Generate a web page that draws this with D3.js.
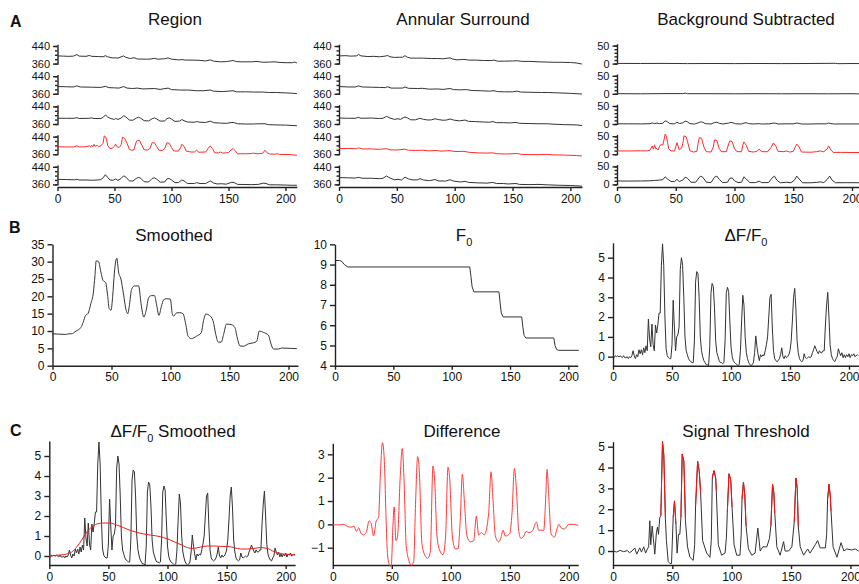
<!DOCTYPE html>
<html>
<head>
<meta charset="utf-8">
<script src="https://cdn.jsdelivr.net/npm/d3@7"></script>
<style>
body { margin: 0; background: #fff; }
svg { font-family: "Liberation Sans", Arial, sans-serif; }
.axis path, .axis line { stroke: #222; stroke-width: 1.4; }
.axis text { font-size: 12px; fill: #111; font-family: "Liberation Sans", Arial, sans-serif; }
.small text { font-size: 11px; }
.trace { fill: none; stroke-width: 1; stroke-linejoin: round; }
.title { font-size: 17px; fill: #111; }
.letter { font-size: 16px; font-weight: bold; fill: #111; }
</style>
</head>
<body>
<svg id="fig" width="859" height="584"></svg>
<script>

// ---- row A: raw traces, 5 regions each (time in s, value) ----
const region = [
  [[0,395],[5,394],[10,393],[14,394],[17,401],[19,394],[25,393],[28,397],[30,393],[36,392],[40,391],[42,396],[44,391],[48,386],[51,386],[53,385],[58,395],[60,388],[64,383],[67,387],[70,381],[78,380],[82,381],[85,384],[88,380],[94,382],[97,386],[100,380],[106,377],[110,378],[112,376],[118,376],[124,375],[130,372],[134,377],[137,371],[143,368],[148,369],[154,374],[157,369],[162,368],[170,368],[175,370],[180,366],[186,367],[190,368],[196,365],[202,364],[206,364],[208,367],[210,363]],
  [[0,393],[8,392],[14,391],[17,396],[20,391],[30,390],[38,389],[42,394],[45,388],[50,387],[54,386],[58,393],[61,386],[66,384],[70,386],[75,382],[85,384],[90,380],[97,386],[100,379],[108,377],[115,377],[122,374],[128,374],[134,377],[137,372],[145,370],[154,374],[157,369],[165,369],[172,368],[180,368],[185,366],[192,366],[200,364],[205,363],[210,361]],
  [[0,386],[8,386],[15,386],[17,389],[19,385],[28,386],[30,388],[32,385],[38,385],[40,390],[42,401],[44,392],[47,384],[50,381],[51,385],[53,381],[56,387],[58,398],[60,392],[63,378],[66,377],[69,386],[71,391],[73,386],[76,375],[80,374],[83,384],[85,388],[87,383],[90,373],[94,374],[96,384],[98,388],[100,382],[103,372],[107,373],[109,380],[111,375],[114,369],[120,368],[122,371],[125,368],[130,367],[134,373],[137,366],[143,364],[148,363],[153,367],[155,366],[158,361],[165,360],[172,360],[176,361],[182,361],[185,357],[190,356],[200,355],[210,352]],
  [[0,394],[8,393],[14,393],[17,398],[19,393],[25,394],[28,398],[29,393],[30,400],[31,394],[32,405],[33,396],[35,400],[36,395],[38,398],[40,410],[41,443],[42,440],[43,428],[44,400],[46,386],[48,387],[50,396],[51,406],[52,395],[54,390],[55,396],[56,405],[57,437],[59,432],[61,410],[63,382],[65,378],[67,380],[69,415],[70,423],[72,422],[74,400],[76,380],[79,379],[81,385],[83,412],[85,412],[87,395],[89,378],[92,377],[94,385],[96,412],[98,410],[100,390],[102,375],[106,374],[108,390],[109,405],[111,396],[113,374],[117,370],[120,370],[122,378],[124,369],[130,370],[132,385],[134,398],[136,385],[138,366],[141,366],[143,370],[145,365],[150,367],[152,378],[154,386],[156,375],[158,362],[165,362],[170,363],[172,365],[175,362],[180,364],[182,378],[184,366],[186,361],[191,360],[193,362],[195,359],[205,358],[210,355]],
  [[0,383],[8,382],[15,381],[17,383],[19,380],[25,380],[30,379],[35,380],[38,382],[40,390],[42,404],[44,392],[46,380],[49,379],[51,385],[53,378],[56,388],[58,399],[60,393],[63,376],[66,375],[69,387],[71,392],[73,388],[76,372],[80,371],[83,387],[85,390],[87,384],[90,370],[94,371],[96,385],[98,387],[100,380],[103,368],[106,368],[109,380],[111,376],[114,364],[120,364],[122,368],[125,364],[130,364],[134,376],[137,366],[140,362],[144,363],[148,361],[153,370],[155,368],[158,360],[170,359],[176,360],[181,366],[183,364],[186,358],[192,358],[200,357],[205,356],[210,356]]
];

const annulus = [
  [[0,395],[6,396],[10,394],[15,395],[17,401],[19,395],[25,392],[30,393],[35,391],[40,394],[42,397],[44,391],[48,388],[52,389],[55,389],[57,396],[59,389],[62,385],[68,385],[72,385],[80,383],[85,383],[90,382],[96,386],[98,381],[102,377],[108,379],[112,376],[118,376],[125,374],[132,374],[134,376],[137,371],[143,371],[150,372],[154,373],[158,370],[165,370],[172,368],[180,367],[186,366],[192,366],[200,365],[205,363],[210,358]],
  [[0,393],[8,391],[14,391],[17,396],[20,391],[28,390],[35,389],[40,388],[42,392],[45,386],[50,386],[55,386],[57,391],[60,385],[68,384],[72,385],[78,381],[85,382],[90,380],[96,384],[99,379],[105,378],[110,379],[115,375],[122,374],[130,372],[134,374],[137,370],[143,369],[150,369],[154,372],[157,368],[165,367],[175,366],[180,366],[190,364],[200,362],[210,359]],
  [[0,387],[8,386],[14,386],[17,390],[19,386],[28,387],[35,385],[38,386],[41,395],[44,387],[48,381],[51,384],[53,381],[57,392],[59,388],[62,379],[66,379],[70,386],[73,381],[77,378],[80,379],[83,384],[86,380],[90,377],[93,378],[96,383],[99,378],[104,374],[109,378],[112,372],[118,371],[125,369],[130,368],[133,371],[136,366],[142,366],[148,365],[153,367],[156,363],[165,362],[172,361],[180,361],[186,359],[195,357],[205,356],[210,353]],
  [[0,386],[8,386],[15,385],[17,389],[20,384],[28,384],[35,382],[41,385],[44,380],[50,379],[57,383],[60,378],[66,377],[72,378],[78,375],[84,377],[88,374],[96,376],[100,372],[108,373],[112,369],[120,366],[127,365],[133,366],[137,362],[145,361],[154,363],[158,359],[165,358],[173,358],[180,359],[185,357],[195,356],[205,354],[210,352]],
  [[0,391],[8,390],[14,389],[17,392],[20,388],[28,388],[35,386],[38,388],[41,398],[44,389],[48,381],[51,383],[54,380],[57,393],[60,385],[64,380],[68,381],[70,386],[73,380],[78,377],[83,382],[86,376],[92,375],[96,381],[99,375],[105,371],[109,374],[112,369],[120,367],[128,366],[133,369],[136,364],[142,364],[146,362],[153,364],[156,360],[165,359],[172,360],[180,358],[190,356],[200,355],[210,352]]
];

const bgSub = [
  [[0,0.5],[20,0.3],[40,0.5],[60,0],[80,0.3],[100,0],[120,0.3],[140,0],[160,0.2],[186,0.8],[188,-0.2],[200,0.2],[210,0]],
  [[0,0.3],[20,0],[40,0.5],[56,0.5],[58,2],[60,0.3],[80,0.3],[100,0],[120,0.3],[140,0],[160,0.2],[180,0],[200,0.2],[210,-0.5]],
  [[0,0.5],[10,0.5],[20,0.3],[28,0.8],[30,3],[32,1],[34,2.5],[36,1],[39,2],[41,9],[43,6],[45,1],[49,0.5],[51,5],[53,1.5],[56,3],[58,8],[60,6],[62,1],[66,0],[69,3],[71,6],[73,5],[75,1],[80,0],[83,4],[85,5],[87,2],[90,0],[95,2.5],[97,4.5],[99,3],[101,0.5],[106,0],[108,2.5],[110,3.6],[112,1],[116,0],[121,1],[123,0],[130,0.5],[133,2.7],[135,2],[137,0],[143,0.5],[150,0.5],[153,2.7],[155,1.5],[157,0],[165,0],[172,0.5],[178,0.5],[180,2.7],[182,1],[185,0],[195,0.2],[210,0.2]],
  [[0,9],[10,9],[20,9.5],[25,9],[28,11],[30,23],[31,14],[32,26],[33,15],[34,16],[35,12],[36,20],[37,26],[39,26],[40,40],[41,56],[42,50],[43,33],[44,15],[46,9],[49,9],[50,20],[51,32],[52,22],[53,12],[55,17],[56,30],[57,51],[59,48],[60,35],[62,10],[65,6],[68,8],[69,30],[70,46],[72,44],[74,20],[76,7],[80,6],[82,20],[83,40],[85,38],[87,15],[89,7],[93,7],[95,28],[96,37],[98,35],[100,15],[102,7],[106,7],[107,25],[108,34],[110,25],[112,8],[116,6],[119,8],[121,14],[123,7],[128,7],[131,18],[133,31],[135,24],[137,8],[142,7],[144,9],[147,6],[150,8],[152,22],[153,28],[155,20],[157,6],[165,5.5],[170,7],[173,9],[176,7],[179,15],[180,23],[182,12],[184,5],[190,5],[200,4.8],[210,4.6]],
  [[0,9.5],[10,9.3],[20,9.5],[28,10],[32,11],[36,12],[39,13],[41,21],[43,15],[46,8],[49,8],[51,14],[53,8],[56,12],[58,20],[60,17],[63,6],[67,6],[69,15],[71,23],[73,20],[76,6],[80,5],[83,20],[85,23],[87,14],[90,5],[94,6],[96,17],[98,18],[100,10],[103,5],[106,6],[108,21],[110,15],[113,5],[118,5],[121,9],[123,5],[129,5],[132,18],[134,23],[136,12],[139,4.5],[144,6],[148,4.5],[151,12],[153,23],[155,15],[158,4.5],[165,4.5],[170,5.5],[173,7],[176,5],[179,14],[181,23],[183,12],[186,4.5],[195,4.8],[210,4.6]]
];

// ---- row B ----
const smoothed = [[0,9.2],[5,9.1],[11,9.0],[14,9.2],[16,9.2],[20,10],[24,11],[26,12.5],[28,14.5],[30,15],[32.6,18],[34.6,21],[36,26],[37,30.2],[39,30],[41,27],[43,24.5],[45,24],[46.8,20],[48,16.5],[49.6,16],[51,20],[52.5,27],[54.5,31],[56,27],[58,25],[60,21],[62.4,16],[63.8,15],[65,17],[67,22],[69.5,23],[73,23],[75,18],[77.4,14],[79.4,16],[81.4,19.5],[83.7,20.2],[86.5,20.2],[88,18],[90.2,14.5],[92.2,17],[94.2,19],[96.5,19.3],[99.9,19.2],[101.5,15],[102.7,14.3],[105,15.2],[107.8,15.3],[110.6,15],[112.9,12],[114.9,8.5],[117.7,7.8],[122,8.5],[126,9.5],[128,13],[130,14.9],[133,14.5],[136,13],[138.4,9],[140.4,6.8],[143,6.8],[145,9],[147.5,12],[151.8,11.8],[154.6,11],[156.6,8],[158.9,5.7],[161.7,5.6],[166,6.3],[170.2,6.6],[173,7],[175.3,10],[178.7,9.6],[183,8.8],[185,6.5],[187.2,4.8],[191.5,4.8],[194.3,5.1],[201.4,5.0],[207,4.9]];

const f0 = [[0,9.2],[4,9.2],[6,9.15],[8,9.0],[11,8.88],[115.5,8.88],[116.5,8.4],[117.5,7.9],[119,7.65],[140.5,7.65],[141.5,7.1],[142.5,6.6],[144,6.41],[160,6.41],[161,5.9],[162,5.5],[163.5,5.37],[187.5,5.37],[188.5,5.0],[190,4.8],[191.5,4.76],[209,4.76]];

// dF/F0, one value per second from t = 0
const dff = [
  0.0,-0.05,0.05,0.0,0.05,-0.02,0.05,0.0,-0.05,0.05,
  -0.05,-0.05,0.0,-0.1,0.0,-0.05,0.05,0.3,0.05,-0.1,
  0.1,0.0,0.35,0.15,0.35,0.1,0.45,0.2,0.55,0.3,
  1.9,0.9,0.5,1.65,0.6,0.3,1.6,1.2,1.6,2.2,
  2.2,4.6,5.7,4.6,2.0,0.4,0.05,-0.05,-0.1,-0.1,
  0.6,2.85,1.5,0.3,1.0,1.1,1.5,4.4,5.0,4.6,
  3.0,1.0,0.3,0.1,-0.1,-0.2,-0.25,-0.3,-0.3,0.8,
  3.8,4.3,4.2,3.0,1.0,0.3,0.0,-0.2,-0.3,-0.4,
  -0.4,-0.45,0.5,3.2,3.7,3.55,2.5,0.8,0.2,0.0,
  -0.2,-0.3,-0.3,-0.35,-0.3,0.8,3.2,3.5,3.3,1.8,
  0.5,0.0,-0.2,-0.3,-0.35,-0.4,-0.45,-0.4,0.3,1.8,
  3.1,2.6,1.0,0.2,-0.1,-0.3,-0.4,-0.45,-0.4,-0.3,
  0.2,1.05,0.5,0.1,-0.2,0.1,0.0,0.1,0.05,0.3,
  0.6,1.0,2.0,3.0,3.15,1.5,0.3,-0.1,-0.2,-0.25,
  -0.2,-0.1,0.1,0.45,0.0,-0.1,0.05,-0.05,0.0,0.1,
  0.3,0.8,1.8,3.0,3.45,2.4,0.8,0.2,-0.1,-0.2,
  -0.25,-0.2,0.15,-0.05,-0.1,-0.05,0.0,-0.05,0.0,0.2,
  0.35,0.55,0.4,0.25,0.15,0.3,0.2,0.2,0.3,0.3,
  1.6,2.6,3.25,2.0,0.6,0.1,-0.1,-0.2,-0.25,-0.1,
  0.0,0.4,0.2,0.05,0.2,-0.05,0.1,-0.05,0.1,0.0,
  0.15,-0.05,0.1,0.05,0.15,0.0,0.05,0.1,0.05
];

// ---- row C ----
const dffSmooth = [[0,0.0],[9,0.05],[14.7,0.1],[19,0.2],[23.2,0.45],[27.4,0.8],[31.7,1.2],[36,1.45],[40.2,1.6],[45.8,1.65],[51.5,1.65],[57.1,1.55],[62.8,1.42],[68.5,1.28],[74.1,1.18],[79.8,1.1],[85.4,1.05],[91,1.0],[96.7,0.92],[102.4,0.8],[108.1,0.65],[113.7,0.5],[118,0.4],[122.2,0.38],[127.9,0.45],[133.5,0.5],[139.2,0.5],[144.8,0.48],[150.5,0.48],[156.2,0.42],[161.8,0.35],[167.5,0.35],[173.1,0.38],[178.8,0.42],[184.4,0.38],[190.1,0.22],[195.8,0.12],[201.4,0.08],[208,0.05]];

const difference = [[0,-0.02],[6,-0.02],[9,0.0],[13,-0.1],[16,-0.12],[18,-0.08],[20,-0.3],[22,-0.15],[24,-0.4],[26,-0.45],[28.3,-0.35],[30.8,0.15],[32.5,0.05],[34.5,-0.5],[36.8,0.15],[38.8,0.3],[40.2,2.0],[42.1,3.5],[43.6,2.8],[45.3,0.0],[46.4,-1.3],[48.1,-1.75],[49.5,-1.8],[51,0.0],[52,0.75],[53.5,-0.7],[54.9,-0.5],[57.1,2.0],[58.8,3.25],[60.3,2.0],[62.2,-0.9],[64.2,-1.5],[66.5,-1.75],[68.5,-1.6],[70.2,1.0],[71.9,2.9],[73.3,2.3],[75.5,-0.8],[77.8,-1.3],[80.3,-1.45],[82.6,-1.2],[84.9,2.5],[86.3,1.9],[88.3,-0.5],[90.5,-1.1],[93.4,-1.3],[95.6,-0.5],[97.6,2.45],[99,2.0],[101.3,-0.5],[103.8,-1.05],[106.1,-1.05],[108.1,0.3],[109.8,2.15],[111.5,1.0],[113.7,-0.5],[116.5,-0.75],[119.4,-0.7],[121.6,0.35],[123.6,-0.45],[125.9,-0.35],[128.4,-0.45],[132.1,0.5],[134.1,2.25],[135.8,1.0],[137.8,-0.5],[140.6,-0.75],[142.6,-0.55],[144.3,-0.25],[146.2,-0.5],[149.9,-0.4],[151.9,0.5],[153.9,2.4],[155.6,1.5],[157.6,-0.3],[159.5,-0.6],[161.8,-0.5],[163.8,-0.3],[166,-0.35],[168.9,-0.3],[172.6,0.1],[174.5,-0.25],[178.8,-0.25],[180.3,1.0],[181.6,2.35],[183,1.2],[185,-0.4],[187.8,-0.55],[190,-0.2],[191.5,0.0],[193.5,-0.15],[196.3,-0.2],[200,0.0],[204.2,0.0],[208,-0.05]];

const threshSignal = [[0,0],[3,-0.05],[6,0.03],[9,-0.03],[12,0.02],[14,-0.08],[16,0],[18.3,0.15],[20,-0.15],[22.5,0.15],[24,-0.05],[25.9,0.2],[27.5,-0.1],[29,0.1],[30,0.2],[31,1.45],[31.8,0.3],[33,1.2],[34,0.6],[35.2,-0.15],[36.6,0.9],[37.5,1.15],[38.3,0.8],[39.4,1.6],[40.3,1.7],[41.7,5.25],[42.8,4.6],[44.2,1.5],[45,0.5],[46.5,-0.5],[48,-0.6],[49.3,-0.6],[50.7,1.6],[51.8,2.4],[53,1.3],[54,-0.1],[55.2,0.8],[56.3,0.8],[57.2,1.6],[58.3,4.65],[59.7,4.3],[61.1,1.4],[62.8,0.2],[64.8,-0.3],[67.6,-0.45],[68.8,0.3],[69.6,2.2],[71.3,4.3],[72.7,3.8],[73.8,2.8],[75.5,0.5],[78.9,-0.1],[81.7,-0.3],[82.8,0.5],[83.7,3.55],[85.1,3.85],[86.5,3.5],[87,2.9],[88.7,0.3],[91.5,-0.2],[94.4,-0.1],[95.5,0.6],[96.3,1.85],[97.7,3.7],[99.2,3.4],[100.3,2.1],[102,0.3],[104.2,-0.2],[107,-0.2],[108,0.8],[108.7,2.5],[109.9,3.3],[111,2.7],[112.1,1.2],[114.1,0.1],[116.9,-0.2],[119.7,-0.1],[122,1.1],[124,0],[126.2,0.2],[129.6,0.2],[131.8,0.6],[133,1.2],[134.4,3.2],[135.5,2.8],[136.3,1.8],[138,0.2],[140.8,-0.2],[143.7,0.45],[145,0],[147.9,0],[150.7,0.2],[152.7,1.4],[154.1,3.5],[155.2,3.0],[156.1,1.2],[157.7,0.2],[160.6,-0.2],[164,0.1],[166,-0.1],[170.4,0.3],[172.4,0.5],[174.5,0.15],[178.9,0.15],[180,0.8],[180.8,2.5],[182,3.2],[183.1,2.6],[183.7,1.9],[185.4,0.2],[188.7,-0.3],[192.1,0.4],[194.5,0],[197,0.1],[201,0.05],[204,0.1],[207,0]];

// time windows flagged as signal (drawn red)
const signalWindows = [[40.3,44.2],[50.7,53],[57.2,61.1],[69.6,73.8],[83.7,87],[96.3,100.3],[108.7,112.1],[133,136.3],[152.7,156.1],[180.8,183.7]];

const xTickVals = [0, 50, 100, 150, 200];
const gray = "#333";
const red = "#ff2a2a";
const intFmt = d3.format("d");

const svg = d3.select("#fig");

function title(x, y, parts) {
    var t = svg.append("text").attr("class", "title")
        .attr("x", x).attr("y", y).attr("text-anchor", "middle");
    var wasSub = false;
    parts.forEach(p => {
        var sub = p[1] === true;
        t.append("tspan")
            .attr("font-size", sub ? 11 : 17)
            .attr("dy", sub ? 5 : (wasSub ? -5 : 0))
            .text(p[0]);
        wasSub = sub;
    });
}

// stacked mini plots used in row A
function stack(x0, k, traces, lo, hi, ppu, minorStep, domLo, domHi) {
    var x = d3.scaleLinear().domain([0, 210]).range([x0, x0 + 210 * k]);
    traces.forEach((tr, i) => {
        var b = 63.6 + i * 30.2;
        var y = d3.scaleLinear().domain([domLo, domHi])
            .range([b + (lo - domLo) * ppu, b - (domHi - lo) * ppu]);

        svg.append("g").attr("class", "axis")
            .attr("transform", "translate(" + x0 + ",0)")
            .call(d3.axisLeft(y).tickValues(d3.range(lo, hi + 1, minorStep))
                .tickSize(2.5).tickFormat("").tickSizeOuter(0));

        var g2 = svg.append("g").attr("class", "axis small")
            .attr("transform", "translate(" + x0 + ",0)")
            .call(d3.axisLeft(y).tickValues([lo, hi]).tickFormat(intFmt)
                .tickSize(4.5).tickPadding(3).tickSizeOuter(0));
        g2.select(".domain").remove();

        svg.append("path").datum(tr)
            .attr("class", "trace")
            .attr("stroke", i == 3 ? red : gray)
            .attr("d", d3.line().x(d => x(d[0])).y(d => y(d[1])));
    });
    svg.append("g").attr("class", "axis")
        .attr("transform", "translate(0,187)")
        .call(d3.axisBottom(x).tickValues(xTickVals).tickFormat(intFmt).tickSize(4).tickSizeOuter(0));
}

// single plot used in rows B and C
function panel(o) {
    var x = d3.scaleLinear().domain([0, 208]).range([o.x0, o.x0 + 208 * o.k]);
    var y = d3.scaleLinear().domain([o.yMin, o.yMax])
        .range([o.yBot, o.yBot - (o.yMax - o.yMin) * o.ppu]);

    svg.append("g").attr("class", "axis")
        .attr("transform", "translate(0," + o.yBot + ")")
        .call(d3.axisBottom(x).tickValues(xTickVals).tickFormat(intFmt).tickSize(4).tickSizeOuter(0));
    svg.append("g").attr("class", "axis")
        .attr("transform", "translate(" + o.x0 + ",0)")
        .call(d3.axisLeft(y).tickValues(o.ticks).tickFormat(intFmt).tickSize(5).tickPadding(3).tickSizeOuter(0));
    return {x: x, y: y};
}

function draw(p, data, color, width, curve) {
    var line = d3.line().x(d => p.x(d[0])).y(d => p.y(d[1]));
    if (curve) line.curve(curve);
    svg.append("path").datum(data)
        .attr("class", "trace")
        .attr("stroke", color)
        .attr("stroke-width", width)
        .attr("d", line);
}

// letters
svg.append("text").attr("class", "letter").attr("x", 10).attr("y", 27).text("A");
svg.append("text").attr("class", "letter").attr("x", 9).attr("y", 233).text("B");
svg.append("text").attr("class", "letter").attr("x", 10).attr("y", 436).text("C");

// row A
title(175, 25, [["Region"]]);
title(463, 25, [["Annular Surround"]]);
title(746, 25, [["Background Subtracted"]]);
stack(57.5, 1.14, region, 360, 440, 0.22, 20, 357, 448);
stack(339, 1.157, annulus, 360, 440, 0.22, 20, 357, 448);
stack(617, 1.175, bgSub, 0, 50, 0.36, 10, -1.5, 55);

// row B
title(174, 241, [["Smoothed"]]);
title(464, 241, [["F"], ["0", true]]);
title(746, 241, [["\u0394F/F"], ["0", true]]);

var pB1 = panel({x0: 52.5, k: 1.18, yMin: 0, yMax: 35, yBot: 365.7, ppu: 3.469, ticks: d3.range(0, 36, 5)});
draw(pB1, smoothed, gray, 1, d3.curveMonotoneX);

var pB2 = panel({x0: 335, k: 1.167, yMin: 4, yMax: 10, yBot: 365.7, ppu: 20.23, ticks: d3.range(4, 11, 1)});
draw(pB2, f0, gray, 1);

var pB3 = panel({x0: 613, k: 1.18, yMin: -0.455, yMax: 5.75, yBot: 365.7, ppu: 19.8, ticks: d3.range(0, 6, 1)});
draw(pB3, dff.map((v, i) => [i, v]), gray, 1);

// row C
title(173, 437, [["\u0394F/F"], ["0", true], [" Smoothed"]]);
title(462, 437, [["Difference"]]);
title(746, 437, [["Signal Threshold"]]);

var pC1 = panel({x0: 49.3, k: 1.182, yMin: -0.45, yMax: 5.75, yBot: 565, ppu: 20, ticks: d3.range(0, 6, 1)});
draw(pC1, dff.map((v, i) => [i, v]), gray, 1);
draw(pC1, dffSmooth, "#ee1c1c", 2.2, d3.curveMonotoneX);

var pC2 = panel({x0: 332.8, k: 1.18, yMin: -1.74, yMax: 3.47, yBot: 565, ppu: 23.35, ticks: d3.range(-1, 4, 1)});
draw(pC2, difference, "#ff3b3b", 1.1, d3.curveMonotoneX);

var pC3 = panel({x0: 613, k: 1.187, yMin: -0.67, yMax: 5.24, yBot: 565, ppu: 20.87, ticks: d3.range(0, 6, 1)});
draw(pC3, threshSignal, gray, 1);
signalWindows.forEach(w => {
    draw(pC3, threshSignal.filter(d => d[0] >= w[0] && d[0] <= w[1]), "#ff1010", 2.4);
});

</script>
</body>
</html>
